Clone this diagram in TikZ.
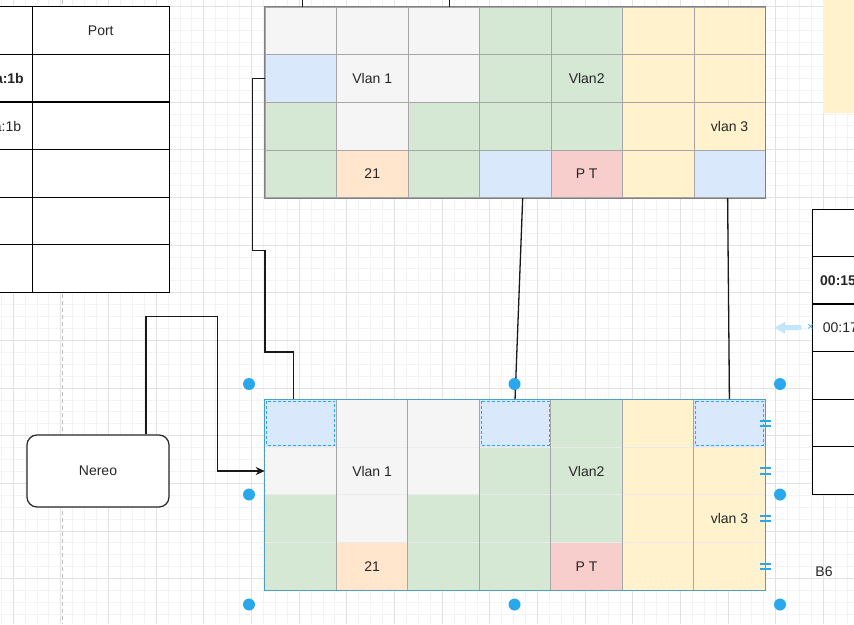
\documentclass[tikz,border=0pt]{standalone}
\usepackage{fontspec}
\setmainfont{Liberation Sans}
\usetikzlibrary{calc,arrows.meta}

\definecolor{cgrey}{HTML}{F5F5F5}
\definecolor{cgreen}{HTML}{D5E8D4}
\definecolor{cblue}{HTML}{DAE8FC}
\definecolor{cyellow}{HTML}{FFF2CC}
\definecolor{corange}{HTML}{FFE6CC}
\definecolor{cred}{HTML}{F8CECC}
\definecolor{selblue}{HTML}{29A8EE}
\definecolor{gridminor}{HTML}{F3F3F3}
\definecolor{gridmajor}{HTML}{E2E2E2}

\newcommand{\cellfont}{\fontsize{14}{16}\selectfont}

\tikzset{
  cell/.style={minimum width=71.47pt, minimum height=47.66pt, inner sep=0pt, anchor=north west},
  topcell/.style={cell, draw=black!35, line width=0.7pt},
  botcell/.style={cell},
  celltext/.style={font=\cellfont, text=black!85, inner sep=0pt},
  link/.style={draw=black!90, line width=1.3pt},
  selbox/.style={draw=selblue, line width=0.9pt, dash pattern=on 3pt off 2pt},
  tabline/.style={draw=black, line width=1.4pt}
}

\begin{document}
\begin{tikzpicture}[x=1pt,y=-1pt]
\useasboundingbox (0,0) rectangle (854,624);
\clip (0,0) rectangle (854,624);
\fill[white] (0,0) rectangle (854,624);
% background grid
\foreach \k in {0,...,71} \draw[gridminor, line width=0.8pt] (1.2+11.915*\k,0) -- ++(0,624);
\foreach \k in {0,...,51} \draw[gridminor, line width=0.8pt] (0,6.7+11.915*\k) -- ++(854,0);
\foreach \k in {0,...,17} \draw[gridmajor, line width=0.8pt] (13.1+47.66*\k,0) -- ++(0,624);
\foreach \k in {0,...,12} \draw[gridmajor, line width=0.8pt] (0,6.7+47.66*\k) -- ++(854,0);
\draw[black!25, line width=1pt, dash pattern=on 4pt off 3pt] (62.5,0) -- (62.5,624);

% left table
\draw[tabline, fill=white] (-20,6.7) rectangle (169.3,292.3);
\foreach \y in {54.3,102,149.7,197.3,244.7} \draw[tabline] (-20,\y) -- (169.3,\y);
\draw[tabline] (32.3,6.7) -- (32.3,292.3);
\node[celltext] (port) at (100.8,30.5) {Port};
\node[celltext, anchor=east, font=\cellfont\bfseries] (mac1) at (24,78.5) {a:1b};
\node[celltext, anchor=east] (mac2) at (21.3,126) {a:1b};

% right table
\draw[tabline, fill=white] (812.3,209.3) rectangle (880,494.3);
\foreach \y in {256.7,304,351.7,399.3,446.7} \draw[tabline] (812.3,\y) -- (880,\y);
\node[celltext, anchor=west, font=\cellfont\bfseries] (mac3) at (820,280.5) {00:15};
\node[celltext, anchor=west] (mac4) at (822.7,327.8) {00:17};

\fill[cyellow] (823.3,-2) rectangle (860,113.3);

% top grid
\foreach \row [count=\r from 0] in {{cgrey,cgrey,cgrey,cgreen,cgreen,cyellow,cyellow},
    {cblue,cgrey,cgrey,cgreen,cgreen,cyellow,cyellow},
    {cgreen,cgrey,cgreen,cgreen,cgreen,cyellow,cyellow},
    {cgreen,corange,cgreen,cblue,cred,cyellow,cblue}}
  \foreach \col [count=\c from 0] in \row
    \node[topcell, fill=\col] (t\r\c) at (264.7+71.47*\c,6.7+47.66*\r) {};
\draw[black!50, line width=0.9pt] (t00.north west) rectangle (t36.south east);
\node[celltext] (tvlan1) at (t11) {Vlan 1};
\node[celltext] (tvlan2) at (t14) {Vlan2};
\node[celltext] (tvlan3) at (t26) {vlan 3};
\node[celltext] (tnum) at (t31) {21};
\node[celltext] (tpt) at (t34) {P T};

% bottom grid
\foreach \row [count=\r from 0] in {{cblue,cgrey,cgrey,cblue,cgreen,cyellow,cblue},
    {cgrey,cgrey,cgrey,cgreen,cgreen,cyellow,cyellow},
    {cgreen,cgrey,cgreen,cgreen,cgreen,cyellow,cyellow},
    {cgreen,corange,cgreen,cgreen,cred,cyellow,cyellow}}
  \foreach \col [count=\c from 0] in \row
    \node[botcell, fill=\col] (b\r\c) at (264.7+71.47*\c,399.3+47.66*\r) {};
\foreach \r in {1,2,3} \draw[black!8, line width=0.7pt] (b\r0.north west) -- (b\r6.north east);
\foreach \c in {1,...,6} \draw[black!35, line width=0.7pt] (b0\c.north west) -- (b3\c.south west);
\draw[black!45, line width=0.8pt] (b00.north west) rectangle (b36.south east);
\node[celltext] (bvlan1) at (b11) {Vlan 1};
\node[celltext] (bvlan2) at (b14) {Vlan2};
\node[celltext] (bvlan3) at (b26) {vlan 3};
\node[celltext] (bnum) at (b31) {21};
\node[celltext] (bpt) at (b34) {P T};

% connectors
\coordinate (out1) at (302.7,0);
\coordinate (out2) at (449.3,0);
\draw[link] (out1) -- (out1 |- t00.north);
\draw[link] (out2) -- (out2 |- t00.north);
\draw[link] ($(t33.south)+(7.5,0)$) -- (b03.north);
\draw[link] ($(t36.south)+(-2,0)$) -- (b06.north);
\draw[link] (t10.west) -- ++(-12.4,0) |- ++(12.7,172) |- ($(b00.north)+(-7,-47.3)$) -- ($(b00.north)+(-7,0)$);

\node[draw=black!85, line width=1.2pt, rounded corners=10pt, fill=white, minimum width=142pt,
  minimum height=72pt, font=\cellfont, text=black!85] (nereo) at (98,471) {Nereo};
\coordinate (bend) at (217.3,316.7);
\draw[link, -{Stealth[length=9pt, width=8pt, inset=3pt]}] ($(nereo.north)+(48,0)$) |- (bend) |- (b10.west);

% selection
\draw[selbox] (b00.north west) rectangle (b36.south east);
\foreach \c in {0,3,6} \draw[selbox] ($(b0\c.north west)+(2,2)$) rectangle ($(b0\c.south east)+(-2,-2)$);
\foreach \r in {0,...,3} {
  \draw[selblue, line width=2pt] ($(b\r6.east)+(-5.5,-2.6)$) -- ++(11,0);
  \draw[selblue, line width=2pt] ($(b\r6.east)+(-5.5,2.6)$) -- ++(11,0);
}
\foreach \p in {(249,384),(514.5,384),(780,384),(249,494.5),(780,494.5),(249,604.5),(514.5,604.5),(780,604.5)}
  \fill[selblue] \p circle (6pt);

\fill[selblue!28] (774.3,327.7) -- ++(11,-6) -- ++(0,3.5) -- ++(16,0) -- ++(0,5) -- ++(-16,0) -- ++(0,3.5) -- cycle;
\node[text=selblue, font=\fontsize{11}{11}\selectfont, inner sep=0pt] (hoverx) at (810.5,327.7) {×};

\node[celltext] (b6) at (824,572) {B6};
\end{tikzpicture}
\end{document}
